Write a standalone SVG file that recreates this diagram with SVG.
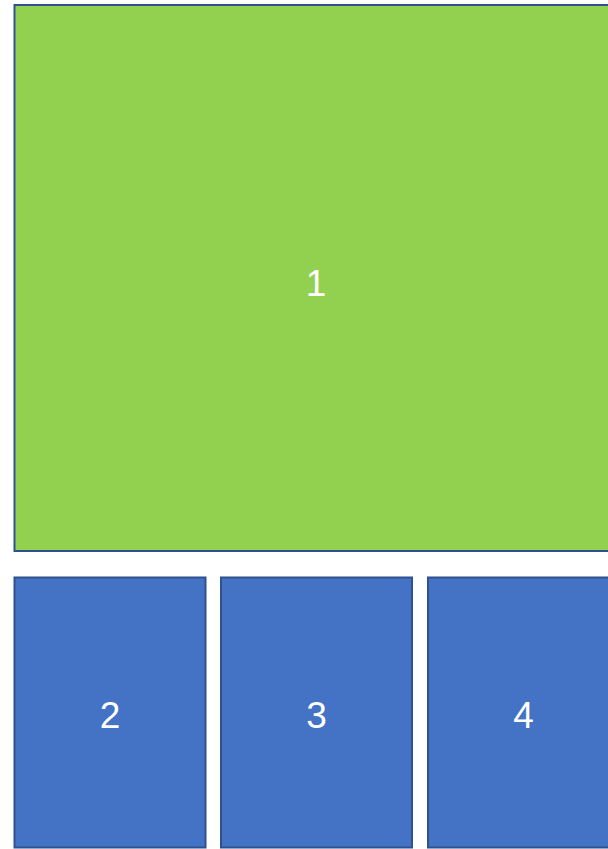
<svg xmlns="http://www.w3.org/2000/svg" width="608" height="849" viewBox="0 0 608 849">
<style>
.box{stroke:#2F528F;stroke-width:2}
.g{fill:#92D050}
.b{fill:#4472C4}
.t{font-family:"Liberation Sans",Arial,sans-serif;font-size:37px;fill:#FFFFFF;text-anchor:middle}
</style>
<rect width="608" height="849" fill="#FFFFFF"/>
<g id="node1"><rect class="box g" x="14.5" y="5" width="610" height="546"/><text class="t" x="316" y="296">1</text></g>
<g id="node2"><rect class="box b" x="14.5" y="577.5" width="191" height="270"/><text class="t" x="110" y="728">2</text></g>
<g id="node3"><rect class="box b" x="221" y="577.5" width="191" height="270"/><text class="t" x="316.5" y="728">3</text></g>
<g id="node4"><rect class="box b" x="428" y="577.5" width="191" height="270"/><text class="t" x="523.5" y="728">4</text></g>
<g id="connectors"></g>
</svg>
